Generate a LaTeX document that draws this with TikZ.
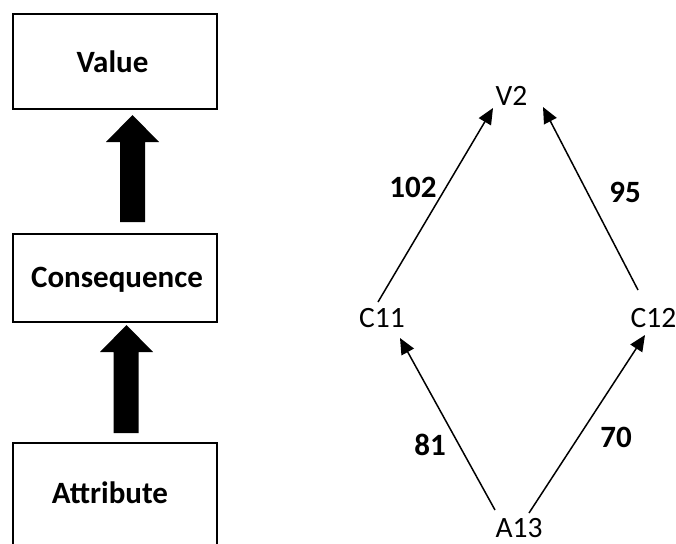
\documentclass[tikz,border=0pt]{standalone}
\usepackage{fontspec}
\setmainfont{Carlito}
\usetikzlibrary{arrows.meta,calc}
\tikzset{
  box/.style={draw=black, line width=2pt, minimum width=204pt, inner sep=0pt},
  boldlbl/.style={anchor=base, inner sep=0pt, font=\fontsize{31}{36}\selectfont\bfseries},
  reglbl/.style={anchor=base, inner sep=0pt, font=\fontsize{29.5}{34}\selectfont},
  wlbl/.style={anchor=base, inner sep=0pt, font=\fontsize{31}{36}\selectfont\bfseries},
  arr/.style={line width=1.5pt, -{Triangle[length=16pt,width=14pt]}},
  blockarrow/.style={fill=black, draw=none}
}
\begin{document}
\begin{tikzpicture}[x=1pt,y=-1pt]
\useasboundingbox (0,0) rectangle (676,543);
\clip (0,0) rectangle (676,543);
% left boxes
\node[box, minimum height=95.5pt] (valbox) at (115,61.5) {};
\node[box, minimum height=88pt] (conbox) at (115,278.3) {};
\node[box, minimum height=140pt] (attbox) at (115,512.7) {};
\node[boldlbl] (val) at (112.5,72) {Value};
\node[boldlbl] (con) at (117,287) {Consequence};
\node[boldlbl] (att) at (110,503) {Attribute};
% block arrows
\fill[blockarrow] (132.5,115) -- (159,142) -- (145,142) -- (145,222) -- (120,222) -- (120,142) -- (106,142) -- cycle;
\fill[blockarrow] (126.5,325) -- (153,352) -- (138.5,352) -- (138.5,433) -- (113.5,433) -- (113.5,352) -- (100,352) -- cycle;
% right graph
\node[reglbl] (v2) at (511.5,105) {V2};
\node[reglbl] (c11) at (382,327) {C11};
\node[reglbl] (c12) at (653.5,327) {C12};
\node[reglbl] (a13) at (519,537) {A13};
\node[wlbl] (w102) at (413,197) {102};
\node[wlbl] (w95) at (625,202) {95};
\node[wlbl] (w81) at (430,455) {81};
\node[wlbl] (w70) at (616,447) {70};
\draw[arr] ($(c11.base)+(-4,-25)$) -- ($(v2.base)+(-18.5,3)$);
\draw[arr] ($(c12.base)+(-15.5,-37)$) -- ($(v2.base)+(31.5,2)$);
\draw[arr] ($(a13.base)+(-24,-27)$) -- ($(c11.base)+(18,11)$);
\draw[arr] ($(a13.base)+(10,-24)$) -- ($(c12.base)+(-8.5,8)$);
\end{tikzpicture}
\end{document}
